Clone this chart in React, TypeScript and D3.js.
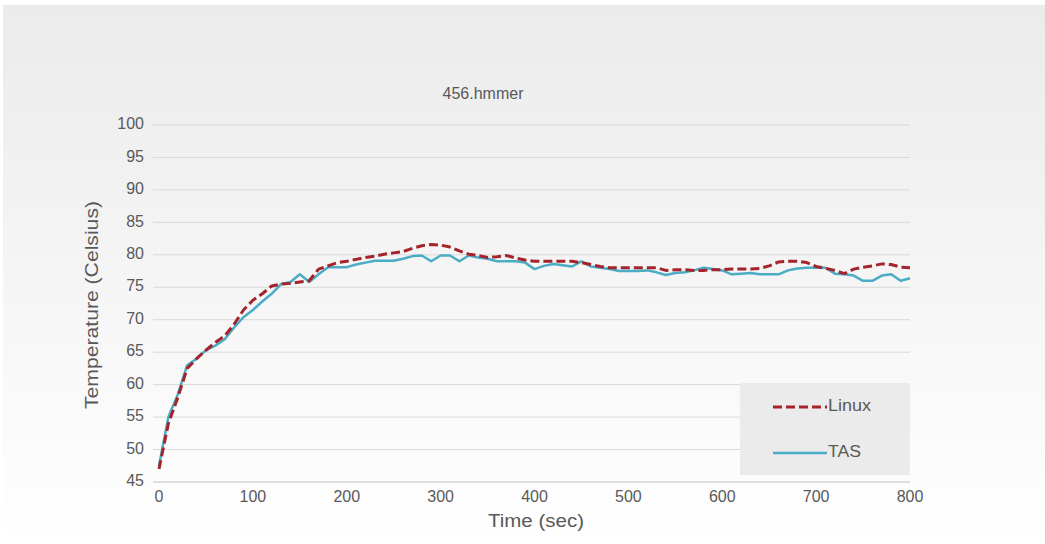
import React from "react";
import * as d3 from "d3";

const times: number[] = [
  0, 10, 20, 30, 40, 50, 60, 70, 80, 90, 100, 110, 120, 130, 140, 150, 160, 170, 180, 190,
  200, 210, 220, 230, 240, 250, 260, 270, 280, 290, 300, 310, 320, 330, 340, 350, 360, 370, 380, 390,
  400, 410, 420, 430, 440, 450, 460, 470, 480, 490, 500, 510, 520, 530, 540, 550, 560, 570, 580, 590,
  600, 610, 620, 630, 640, 650, 660, 670, 680, 690, 700, 710, 720, 730, 740, 750, 760, 770, 780, 790, 800,
];

const linux: number[] = [
  47, 54, 58, 62.5, 64, 65.3, 66.5, 67.5, 69.3, 71.5, 73, 74, 75.2, 75.5, 75.6, 75.8, 76, 77.8, 78.3, 78.8,
  79, 79.3, 79.6, 79.8, 80.1, 80.3, 80.5, 81, 81.4, 81.6, 81.5, 81.2, 80.6, 80.1, 79.9, 79.6, 79.7, 79.9, 79.5, 79.2,
  79, 79, 79, 79, 79, 78.8, 78.5, 78.2, 78, 78, 78, 78, 78, 78, 77.6, 77.7, 77.7, 77.6, 77.6, 77.7,
  77.7, 77.8, 77.8, 77.8, 77.9, 78.3, 78.9, 79, 79, 78.8, 78.2, 77.9, 77.6, 77.1, 77.8, 78.1, 78.3, 78.6, 78.5, 78.1, 78,
];

const tas: number[] = [
  47.5, 55, 58.5, 63, 64, 65.3, 66, 67, 68.8, 70.4, 71.5, 72.8, 74, 75.5, 75.8, 77, 75.8, 77, 78.1, 78.1,
  78.1, 78.5, 78.8, 79.1, 79.1, 79.1, 79.4, 79.8, 79.9, 79, 79.9, 79.9, 79, 79.9, 79.6, 79.4, 79, 79, 79, 78.8,
  77.8, 78.3, 78.6, 78.4, 78.2, 79, 78.2, 78, 77.8, 77.5, 77.5, 77.5, 77.6, 77.3, 76.9, 77.2, 77.3, 77.6, 78, 77.8,
  77.6, 77, 77.1, 77.2, 77, 77, 77, 77.6, 77.9, 78, 78, 78, 77.1, 77, 76.8, 76, 76, 76.8, 77, 76, 76.4,
];

const yTicks: number[] = [45, 50, 55, 60, 65, 70, 75, 80, 85, 90, 95, 100];
const xTicks: number[] = [0, 100, 200, 300, 400, 500, 600, 700, 800];
const seriesNames: string[] = ["Linux", "TAS"];
const chartTitle = "456.hmmer";
const xTitle = "Time (sec)";
const yTitle = "Temperature (Celsius)";

const W = 1045;
const H = 544;
const FONT = "'Liberation Sans', Arial, sans-serif";
const TEXT = "#595959";
const LINUX_COLOR = "#a5232a";
const TAS_COLOR = "#4bacc6";

export default function App() {
  const x = d3.scaleLinear().domain([0, 800]).range([159, 910]);
  const y = d3.scaleLinear().domain([45, 100]).range([482, 125]);
  const line = d3
    .line<[number, number]>()
    .x((d) => x(d[0]))
    .y((d) => y(d[1]));
  const linuxPts: [number, number][] = times.map((t, i) => [t, linux[i]]);
  const tasPts: [number, number][] = times.map((t, i) => [t, tas[i]]);

  const legX = 740;
  const legY = 383;

  return (
    <svg
      width={W}
      height={H}
      style={{ position: "absolute", left: 0, top: 0, display: "block" }}
      fontFamily={FONT}
    >
      <defs>
        <linearGradient id="bg" x1="0" y1="0" x2="0" y2="1">
          <stop offset="0" stopColor="#ebebeb" />
          <stop offset="1" stopColor="#ffffff" />
        </linearGradient>
      </defs>
      <rect x={0} y={0} width={W} height={H} fill="#ffffff" />
      <rect x={3} y={5} width={W - 3} height={H - 5} fill="url(#bg)" />

      <text x={483} y={95} textAnchor="middle" dominantBaseline="middle" fontSize={16} fill={TEXT}>
        {chartTitle}
      </text>

      {yTicks.map((t) => (
        <line
          key={"g" + t}
          x1={153}
          x2={910}
          y1={y(t)}
          y2={y(t)}
          stroke={t === 45 ? "#bfbfbf" : "#d9d9d9"}
          strokeWidth={1}
        />
      ))}
      {yTicks.map((t) => (
        <text
          key={"yt" + t}
          x={144}
          y={y(t)}
          textAnchor="end"
          dominantBaseline="middle"
          fontSize={16}
          fill={TEXT}
        >
          {t}
        </text>
      ))}
      {xTicks.map((t) => (
        <text
          key={"xt" + t}
          x={x(t)}
          y={498}
          textAnchor="middle"
          dominantBaseline="middle"
          fontSize={16}
          fill={TEXT}
        >
          {t}
        </text>
      ))}
      <text
        x={536}
        y={522}
        textAnchor="middle"
        dominantBaseline="middle"
        fontSize={18}
        fill={TEXT}
        textLength={96}
        lengthAdjust="spacingAndGlyphs"
      >
        {xTitle}
      </text>
      <text
        transform={`translate(93,305) rotate(-90)`}
        textAnchor="middle"
        dominantBaseline="middle"
        fontSize={18}
        fill={TEXT}
        textLength={208}
        lengthAdjust="spacingAndGlyphs"
      >
        {yTitle}
      </text>

      <rect x={legX} y={legY} width={170} height={92} fill="#ebebeb" />

      <path d={line(tasPts) || ""} fill="none" stroke={TAS_COLOR} strokeWidth={2.5} strokeLinejoin="round" />
      <path
        d={line(linuxPts) || ""}
        fill="none"
        stroke={LINUX_COLOR}
        strokeWidth={3}
        strokeDasharray="9,4"
        strokeLinejoin="round"
      />

      <line x1={773} x2={827} y1={407} y2={407} stroke={LINUX_COLOR} strokeWidth={3} strokeDasharray="9,4" />
      <text
        x={828}
        y={407}
        dominantBaseline="middle"
        fontSize={16}
        fill={TEXT}
        textLength={43}
        lengthAdjust="spacingAndGlyphs"
      >
        {seriesNames[0]}
      </text>
      <line x1={773} x2={827} y1={453} y2={453} stroke={TAS_COLOR} strokeWidth={2.5} />
      <text
        x={828}
        y={453}
        dominantBaseline="middle"
        fontSize={16}
        fill={TEXT}
        textLength={33}
        lengthAdjust="spacingAndGlyphs"
      >
        {seriesNames[1]}
      </text>
    </svg>
  );
}
